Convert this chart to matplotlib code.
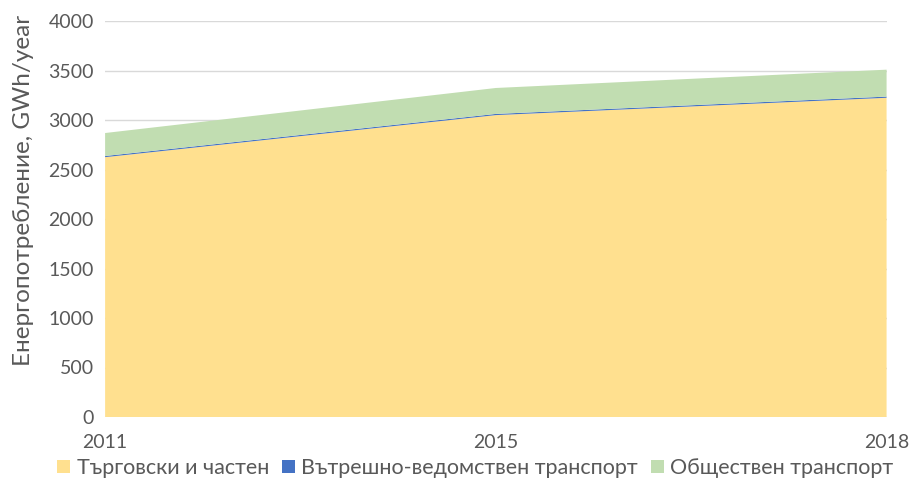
import matplotlib
matplotlib.use("Agg")
import matplotlib.pyplot as plt
from matplotlib.patches import Patch

years = ["2011", "2015", "2018"]
commercial = [2625, 3050, 3225]
departmental = [12, 12, 12]
public = [232, 262, 272]

series_names = ["Търговски и частен", "Вътрешно-ведомствен транспорт", "Обществен транспорт"]
colors = ["#FFE08F", "#4472C4", "#C1DDB1"]

plt.rcParams['font.family'] = ['Lato', 'DejaVu Sans']
text_color = "#595959"

fig = plt.figure(figsize=(9.14, 4.9), dpi=100)
ax = fig.add_axes([0.115, 0.149, 0.855, 0.808])

x = list(range(len(years)))
ax.stackplot(x, commercial, departmental, public, colors=colors, linewidth=0)

ax.set_xlim(0, len(years) - 1)
ax.set_ylim(0, 4000)
ax.set_yticks(range(0, 4001, 500))
ax.set_xticks(x)
ax.set_xticklabels(years)
ax.grid(axis='y', color="#D9D9D9", linewidth=1)
ax.set_axisbelow(True)
for s in ax.spines.values():
    s.set_visible(False)
ax.tick_params(axis='both', length=0, labelsize=14, colors=text_color, pad=8)
ax.tick_params(axis='x', pad=12)

fig.text(24 / 914, 1 - 190 / 490, "Енергопотребление, GWh/year", rotation=90,
         ha='center', va='center', fontsize=17.5, color=text_color)

handles = [Patch(facecolor=c, edgecolor='none') for c in colors]
fig.legend(handles, series_names, loc='center', bbox_to_anchor=(0.52, 0.045), ncol=3,
           frameon=False, fontsize=15.5, handlelength=0.6, handleheight=0.6,
           handletextpad=0.3, columnspacing=0.6, labelcolor=text_color)

fig.savefig("out.png", dpi=100)
